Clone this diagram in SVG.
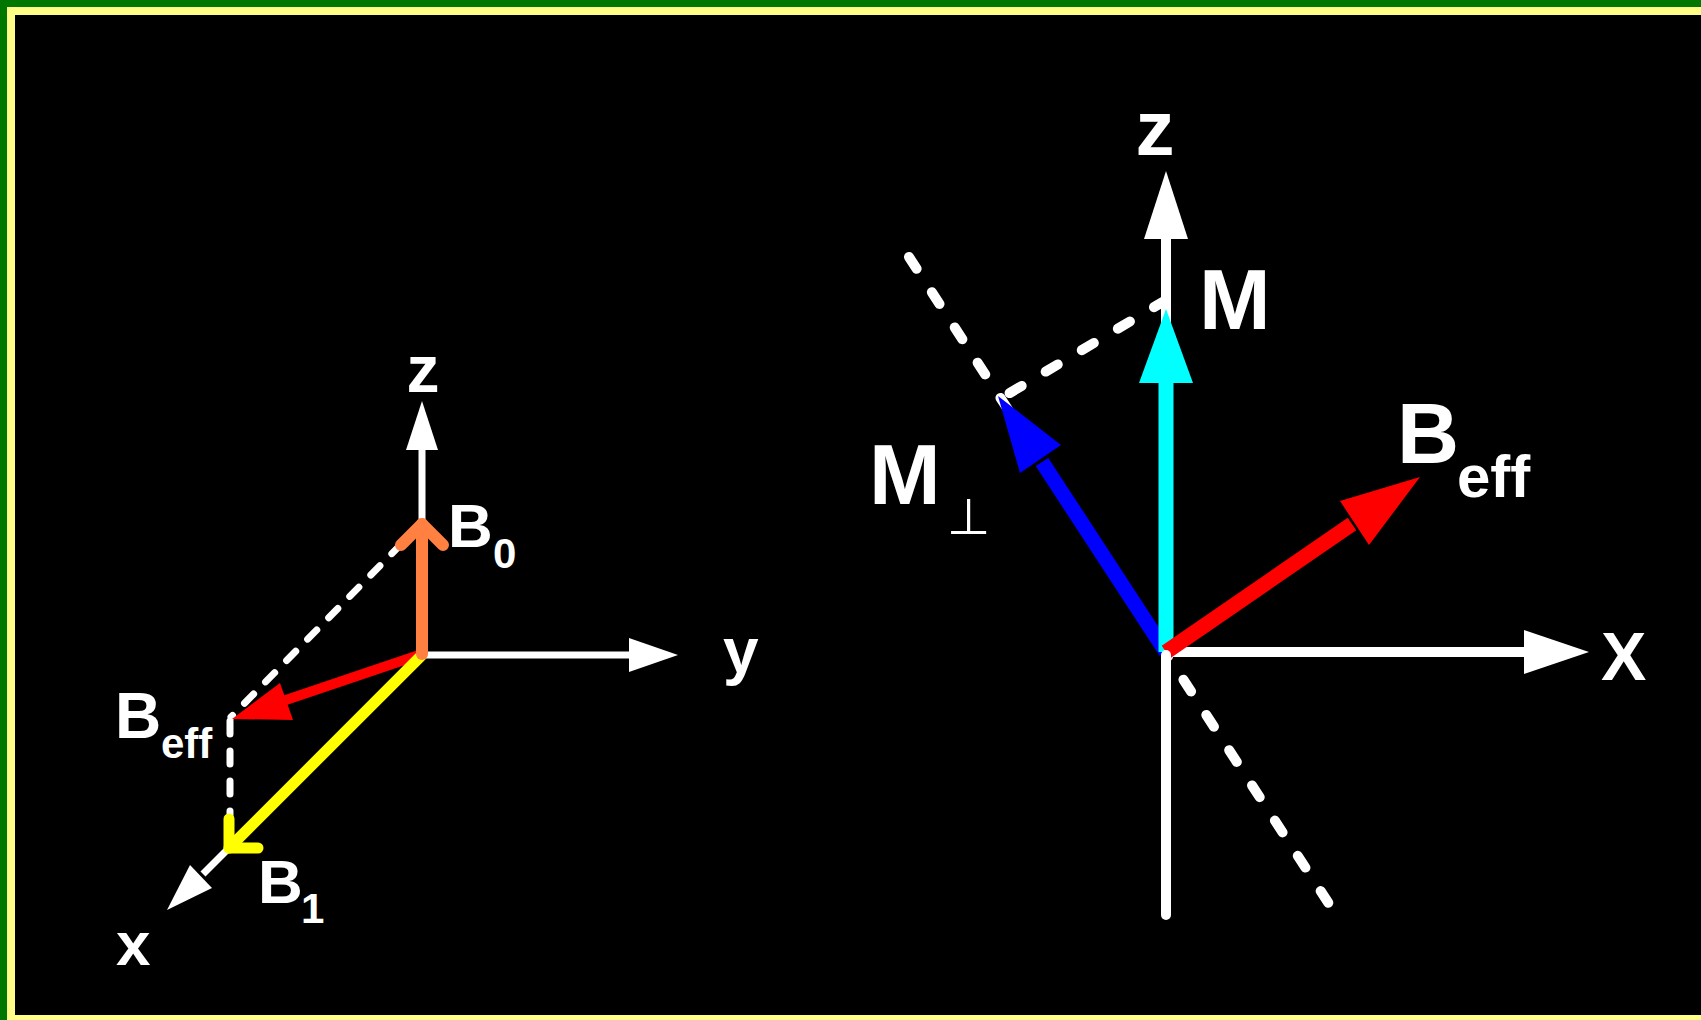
<svg xmlns="http://www.w3.org/2000/svg" width="1701" height="1020" viewBox="0 0 1701 1020">
<style>
.t{font-family:"Liberation Sans",Arial,sans-serif;font-weight:bold;fill:#fff}
.ax{stroke:#fff;fill:none}
.dl{stroke:#fff;fill:none;stroke-width:7;stroke-linecap:round;stroke-dasharray:13 17}
.dr{stroke:#fff;fill:none;stroke-width:10;stroke-linecap:round;stroke-dasharray:14 28}
.hw{fill:#fff}
</style>
<rect x="0" y="0" width="1701" height="1020" fill="#007700"/>
<rect x="7" y="7" width="1694" height="1013" fill="#FFFF88"/>
<rect x="15" y="15" width="1686" height="1000" fill="#000"/>
<g id="connectors">
  <line class="dl" x1="422" y1="523" x2="231" y2="717"/>
  <line class="dl" x1="230" y1="721" x2="230" y2="815"/>
  <line class="dr" x1="909" y1="257" x2="1331" y2="907"/>
  <line class="dr" x1="1166" y1="300" x2="998" y2="400"/>
</g>
<g id="left-axes">
  <line class="ax" stroke-width="7" x1="422" y1="655" x2="422" y2="448"/>
  <polygon class="hw" points="422,401 406,450 438,450"/>
  <line class="ax" stroke-width="7" x1="422" y1="655" x2="631" y2="655"/>
  <polygon class="hw" points="678,655 629,638 629,672"/>
  <line class="ax" stroke-width="7" x1="422" y1="655" x2="203" y2="874"/>
  <polygon class="hw" points="167,910 212,888 190,865"/>
</g>
<g id="left-beff">
  <line stroke="#FF0000" stroke-width="10" x1="422" y1="654" x2="280" y2="702"/>
  <polygon fill="#FF0000" points="232,719 280,683 293,720"/>
</g>
<g id="left-b1">
  <line stroke="#FFFF00" stroke-width="11" stroke-linecap="round" x1="422" y1="655" x2="229" y2="848"/>
  <polyline fill="none" stroke="#FFFF00" stroke-width="11" stroke-linecap="round" stroke-linejoin="round" points="229,819 229,848 258,848"/>
</g>
<g id="left-b0">
  <line stroke="#FF8040" stroke-width="12" stroke-linecap="round" x1="422" y1="654" x2="422" y2="524"/>
  <polyline fill="none" stroke="#FF8040" stroke-width="12" stroke-linecap="round" stroke-linejoin="round" points="401,545 422,524 443,545"/>
</g>
<g id="left-labels">
  <text class="t" x="423" y="392" font-size="66" text-anchor="middle">z</text>
  <text class="t" x="448" y="547" font-size="62">B</text>
  <text class="t" x="493" y="568" font-size="42">0</text>
  <text class="t" x="723" y="673" font-size="64">y</text>
  <text class="t" x="115" y="738" font-size="64">B</text>
  <text class="t" x="161" y="758" font-size="42">eff</text>
  <text class="t" x="258" y="903" font-size="62">B</text>
  <text class="t" x="301" y="923" font-size="42">1</text>
  <text class="t" x="116" y="965" font-size="62">x</text>
</g>
<g id="right-axes">
  <line class="ax" stroke-width="10" x1="1166" y1="652" x2="1166" y2="237"/>
  <polygon class="hw" points="1166,171 1144,239 1188,239"/>
  <line class="ax" stroke-width="10" x1="1166" y1="652" x2="1526" y2="652"/>
  <polygon class="hw" points="1589,652 1524,630 1524,674"/>
</g>
<g id="right-mperp">
  <line stroke="#0000FF" stroke-width="15" x1="1166" y1="652" x2="1042" y2="462"/>
  <polygon fill="#0000FF" points="998,396 1020,473 1061,445"/>
</g>
<g id="right-m">
  <line stroke="#00FFFF" stroke-width="15" x1="1166" y1="652" x2="1166" y2="380"/>
  <polygon fill="#00FFFF" points="1166,309 1139,383 1193,383"/>
</g>
<g id="right-beff">
  <line stroke="#FF0000" stroke-width="15" x1="1166" y1="652" x2="1352" y2="524"/>
  <polygon fill="#FF0000" points="1420,477 1340,501 1369,545"/>
</g>
<g id="right-vertical">
  <line class="ax" stroke-width="10" stroke-linecap="round" x1="1166" y1="655" x2="1166" y2="915"/>
</g>
<g id="right-labels">
  <text class="t" x="1155" y="155" font-size="78" text-anchor="middle">z</text>
  <text class="t" x="1199" y="329" font-size="86">M</text>
  <text class="t" x="1397" y="463" font-size="86">B</text>
  <text class="t" x="1457" y="497" font-size="60">eff</text>
  <text class="t" x="1601" y="680" font-size="68">X</text>
  <text class="t" x="869" y="504" font-size="86">M</text>
  <text x="947" y="534" font-size="50" fill="#fff" font-family="DejaVu Sans,sans-serif">⊥</text>
</g>
</svg>
